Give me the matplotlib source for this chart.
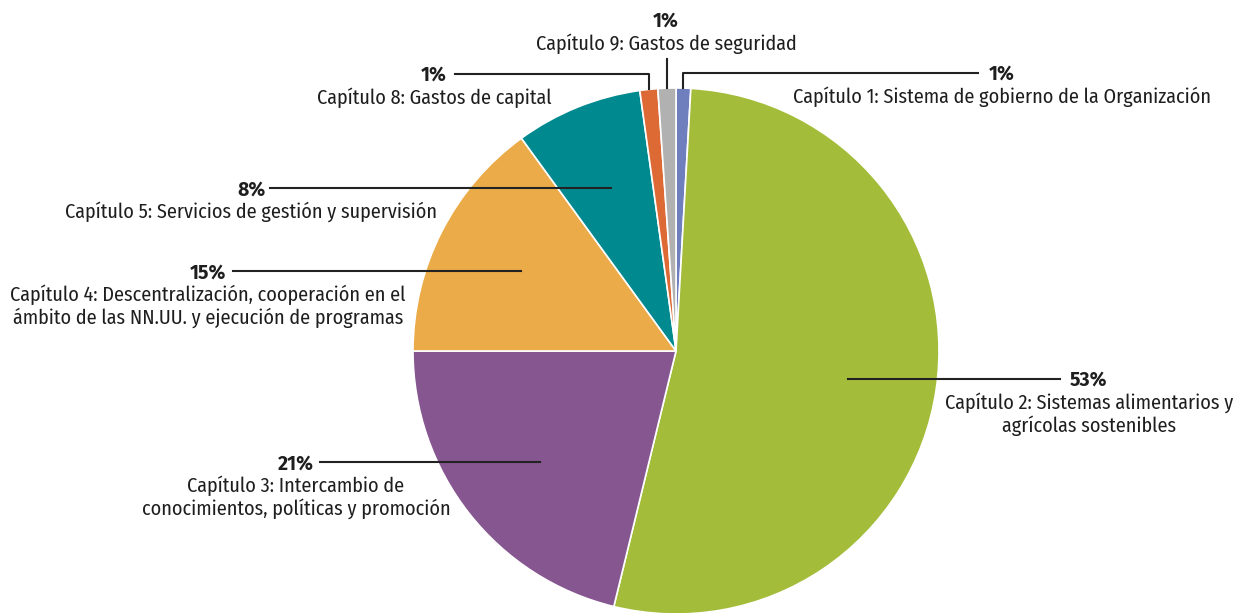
import numpy as np
import matplotlib.pyplot as plt

plt.rcParams['font.family'] = ['Fira Sans Condensed', 'Liberation Sans', 'DejaVu Sans']

# ---- data ----
chapters = ['Capítulo 1: Sistema de gobierno de la Organización',
            'Capítulo 2: Sistemas alimentarios y\nagrícolas sostenibles',
            'Capítulo 3: Intercambio de\nconocimientos, políticas y promoción',
            'Capítulo 4: Descentralización, cooperación en el\námbito de las NN.UU. y ejecución de programas',
            'Capítulo 5: Servicios de gestión y supervisión',
            'Capítulo 8: Gastos de capital',
            'Capítulo 9: Gastos de seguridad']
shares = [0.9, 52.9, 21.2, 15.0, 7.8, 1.1, 1.1]
pct_labels = ['1%', '53%', '21%', '15%', '8%', '1%', '1%']
colors = ['#6F7FBE', '#A3BD3B', '#865690', '#EAAB48', '#00898F', '#DD6A35', '#B1B1B1']

# ---- layout (pixels from top-left) ----
W, H = 1241, 613
CX, CY, R = 676, 351, 263
# (text centre x, pct baseline y, line end, style)
layout = [(1002, 80, 978, 'elbow'),
          (1089, 386, 1060, 'h'),
          (296, 469.5, 320, 'h'),
          (208, 278.5, 233, 'h'),
          (251, 195.5, 270, 'h'),
          (434, 81, 455, 'elbow'),
          (666, 27, 59, 'v')]
PITCH = 23

fig = plt.figure(figsize=(W / 100, H / 100), dpi=100)
ax = fig.add_axes([0, 0, 1, 1])

wedges, _ = ax.pie(shares, colors=colors, startangle=90, counterclock=False,
                   center=(CX, H - CY), radius=R,
                   wedgeprops=dict(edgecolor='white', linewidth=1.2))
ax.set_xlim(0, W)
ax.set_ylim(0, H)
ax.set_aspect('equal')
ax.axis('off')

LC = '#222222'
TC = '#1e1e1e'
FS = 14.5
for w, lab, pct, (tx, yb, lx, style) in zip(wedges, chapters, pct_labels, layout):
    mid = np.deg2rad((w.theta1 + w.theta2) / 2)
    ly = yb - 7.5
    if style == 'h':
        ax0 = CX + 0.66 * R * np.cos(mid)
        ax.plot([ax0, lx], [H - ly, H - ly], color=LC, lw=1.5)
    else:
        ex = CX + R * np.cos(mid)
        ey = H - (CY - R * np.sin(mid))
        if style == 'elbow':
            ax.plot([ex, ex, lx], [ey, H - ly, H - ly], color=LC, lw=1.5)
        else:
            ax.plot([ex, ex], [ey, H - lx], color=LC, lw=1.5)
    ax.text(tx, H - yb, pct, ha='center', va='baseline', fontsize=14,
            fontweight='bold', color=TC,
            family=['Fira Sans', 'Fira Sans Condensed', 'DejaVu Sans'])
    for i, line in enumerate(lab.split('\n')):
        ax.text(tx, H - yb - 22.5 - i * PITCH, line, ha='center', va='baseline',
                fontsize=FS, color=TC)

fig.savefig('out.png', dpi=100, facecolor='white')
